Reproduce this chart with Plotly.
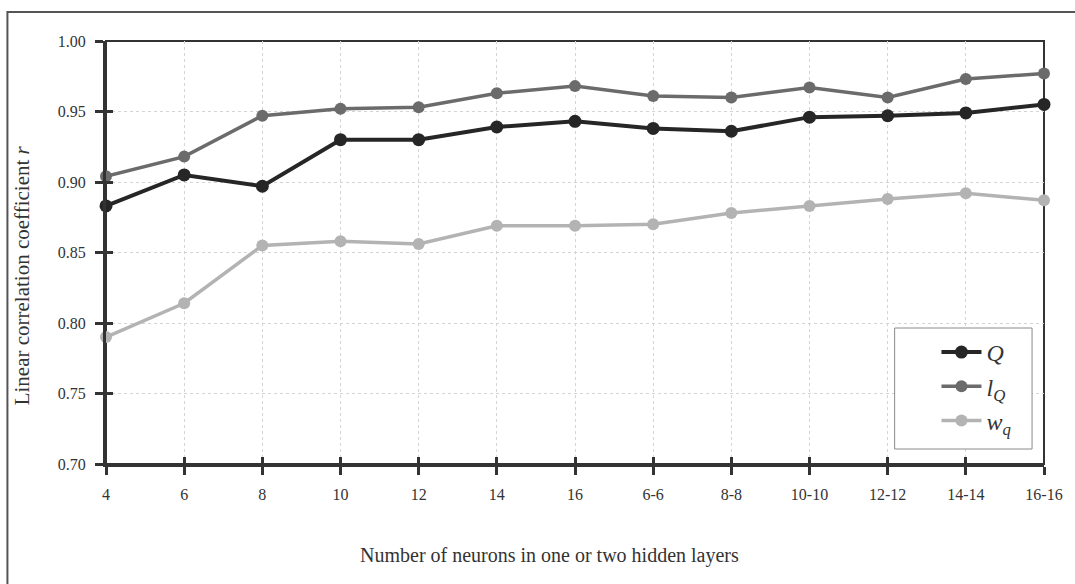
import plotly.graph_objects as go

categories = ["4", "6", "8", "10", "12", "14", "16", "6-6", "8-8", "10-10", "12-12", "14-14", "16-16"]
Q = [0.883, 0.905, 0.897, 0.930, 0.930, 0.939, 0.943, 0.938, 0.936, 0.946, 0.947, 0.949, 0.955]
lQ = [0.904, 0.918, 0.947, 0.952, 0.953, 0.963, 0.968, 0.961, 0.960, 0.967, 0.960, 0.973, 0.977]
wq = [0.790, 0.814, 0.855, 0.858, 0.856, 0.869, 0.869, 0.870, 0.878, 0.883, 0.888, 0.892, 0.887]
y_ticks = [0.70, 0.75, 0.80, 0.85, 0.90, 0.95, 1.00]

series = [
    ("<i>Q</i>", Q, "#262626", 4, 13),
    ("<i>l<sub>Q</sub></i>", lQ, "#6b6b6b", 3.5, 12),
    ("<i>w<sub>q</sub></i>", wq, "#b3b3b3", 3.5, 12),
]

fig = go.Figure()
for name, vals, col, lw, ms in series:
    fig.add_trace(go.Scatter(
        x=categories, y=vals, name=name, mode="lines+markers",
        line=dict(color=col, width=lw),
        marker=dict(color=col, size=ms, symbol="circle"),
        cliponaxis=False,
    ))

# empty helper trace so the overlay axes (inner half of the crossing ticks) are drawn
fig.add_trace(go.Scatter(x=[None], y=[None], xaxis="x2", yaxis="y2",
                         showlegend=False, hoverinfo="skip"))

FONT = "Liberation Serif"
L, R, T, B = 106, 27, 41, 120
W, H = 1075, 584
pw, ph = W - L - R, H - T - B

def px(x):
    return (x - L) / pw

def py(y):
    return (H - B - y) / ph

axis_common = dict(
    showline=True, linewidth=3, linecolor="#333333",
    ticks="outside", ticklen=8, tickwidth=2.5, tickcolor="#333333",
    showgrid=True, gridcolor="#d4d4d4", gridwidth=1, griddash="dot",
    tickfont=dict(family=FONT, size=16, color="#333333"),
    zeroline=False, ticklabelstandoff=6,
)

fig.update_layout(
    width=W, height=H,
    margin=dict(l=L, r=R, t=T, b=B, pad=0),
    paper_bgcolor="white", plot_bgcolor="white",
    font=dict(family=FONT, size=16, color="#333333"),
    showlegend=True,
    legend=dict(
        x=px(940), y=py(330), xanchor="left", yanchor="top",
        bgcolor="rgba(0,0,0,0)", borderwidth=0,
        font=dict(family=FONT, size=24, color="#333333"),
        tracegroupgap=4, itemwidth=40,
    ),
    xaxis=dict(
        type="category", categoryorder="array", categoryarray=categories,
        range=[0, len(categories) - 1], **axis_common,
    ),
    yaxis=dict(
        range=[0.70, 1.00], tickvals=y_ticks, tickformat=".2f", **axis_common,
    ),
    xaxis2=dict(
        overlaying="x", anchor="y2", range=[0, len(categories) - 1],
        tickvals=list(range(len(categories))), showticklabels=False,
        ticks="inside", ticklen=7, tickwidth=2.5, tickcolor="#333333",
        showgrid=False, showline=False, zeroline=False,
    ),
    yaxis2=dict(
        overlaying="y", anchor="x2", range=[0.70, 1.00], tickvals=y_ticks,
        showticklabels=False,
        ticks="inside", ticklen=7, tickwidth=2.5, tickcolor="#333333",
        showgrid=False, showline=False, zeroline=False,
    ),
)

# plot frame (top/right)
fig.add_shape(type="rect", xref="x domain", yref="y domain", x0=0, x1=1, y0=0, y1=1,
              line=dict(color="#333333", width=2), layer="below")
# legend box
fig.add_shape(type="rect", xref="paper", yref="paper",
              x0=px(898), x1=px(1036), y0=py(449), y1=py(328),
              line=dict(color="#8a8a8a", width=1), fillcolor="white", layer="above")
# outer page frame
fig.add_shape(type="rect", xref="paper", yref="paper",
              x0=px(7), x1=px(1095), y0=py(600), y1=py(12),
              line=dict(color="#555555", width=2), layer="below")

fig.add_annotation(text="Linear correlation coefficient <i>r</i>", textangle=-90,
                   xref="paper", yref="paper", x=px(22), y=py(275),
                   xanchor="center", yanchor="middle",
                   showarrow=False, font=dict(family=FONT, size=21, color="#333333"))
fig.add_annotation(text="Number of neurons in one or two hidden layers",
                   xref="paper", yref="paper", x=px(551), y=py(555),
                   xanchor="center", yanchor="middle",
                   showarrow=False, font=dict(family=FONT, size=20, color="#333333"))

fig.write_html("out.html")
